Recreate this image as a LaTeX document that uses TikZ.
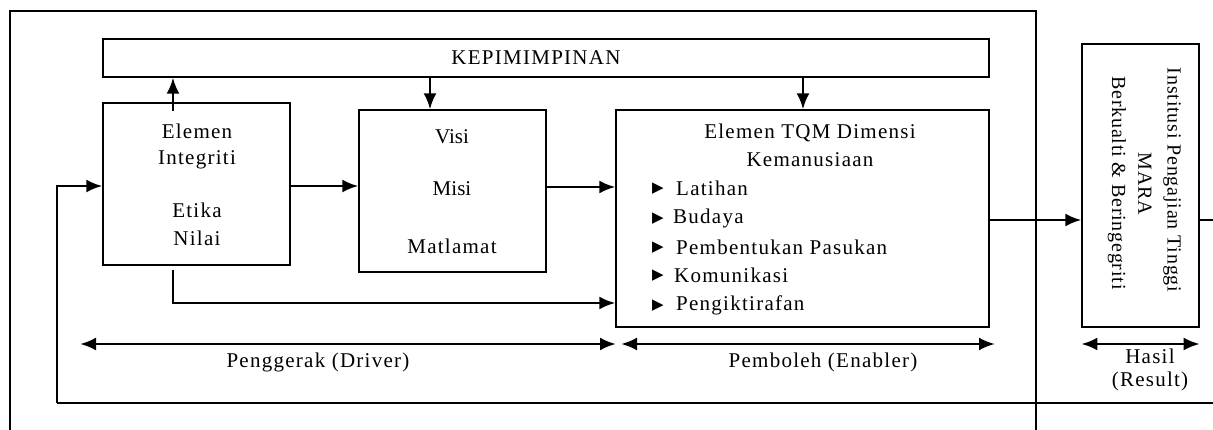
\documentclass[tikz,border=0pt]{standalone}
\usepackage{fontspec}
\setmainfont{Liberation Serif}[LetterSpace=6]
\newfontfamily\plainf{Liberation Serif}
\newfontfamily\rotf{Liberation Serif}[LetterSpace=4]
\newfontfamily\symf{DejaVu Sans}
\usetikzlibrary{arrows.meta}
\begin{document}
\begin{tikzpicture}[x=1pt,y=-1pt,
  box/.style={draw, line width=1.3pt, inner sep=0pt},
  ln/.style={line width=1.3pt},
  arr/.style={line width=2.6pt, -{Latex[length=16pt,width=13pt]}},
  darr/.style={line width=2.6pt, {Latex[length=16pt,width=13pt]}-{Latex[length=16pt,width=13pt]}},
  txt/.style={font=\fontsize{21}{25}\selectfont, inner sep=0pt, anchor=center},
  btxt/.style={font=\fontsize{21}{25}\selectfont, inner sep=0pt, anchor=west},
  rtxt/.style={font=\fontsize{20}{24}\rotf, inner sep=0pt, anchor=center, rotate=-90},
  bul/.style={font=\fontsize{15}{17}\symf, inner sep=0pt, anchor=center}]
\useasboundingbox (0,0) rectangle (1213,430);

% outer frame
\draw[ln] (10,430) -- (10,11) -- (1036,11) -- (1036,430);

% boxes
\node[box, minimum width=886pt, minimum height=38pt] (bar) at (546,58) {};
\node[txt] (kep) at (536,58) {KEPIMIMPINAN};

\node[box, minimum width=187pt, minimum height=162pt] (box1) at (196.5,184) {};
\node[txt] (t1a) at (197,131) {Elemen};
\node[txt] (t1b) at (197,160) {Integriti};
\node[txt] (t1c) at (197,210) {Etika};
\node[txt] (t1d) at (197,238) {Nilai};

\node[box, minimum width=187pt, minimum height=162pt] (box2) at (452.5,191) {};
\node[txt, font=\fontsize{21}{25}\plainf] (t2a) at (452,137) {Visi};
\node[txt, font=\fontsize{21}{25}\plainf] (t2b) at (452,189) {Misi};
\node[txt] (t2c) at (452,246) {Matlamat};

\node[box, minimum width=373pt, minimum height=217pt] (box3) at (802.5,218.5) {};
\node[txt] (t3a) at (810,133) {Elemen TQM Dimensi};
\node[txt] (t3b) at (810,160) {Kemanusiaan};
\node[bul] (k1) at (658,189) {▶};
\node[bul] (k2) at (658,219) {▶};
\node[bul] (k3) at (658,248) {▶};
\node[bul] (k4) at (658,276) {▶};
\node[bul] (k5) at (658,306) {▶};
\node[btxt] (b1) at (676,188) {Latihan};
\node[btxt] (b2) at (673,218) {Budaya};
\node[btxt] (b3) at (676,247) {Pembentukan Pasukan};
\node[btxt] (b4) at (674,275) {Komunikasi};
\node[btxt] (b5) at (676,305) {Pengiktirafan};

\node[box, minimum width=117pt, minimum height=283pt] (box4) at (1140.5,185.5) {};
\node[rtxt] (r1) at (1172,180) {Institusi Pengajian Tinggi};
\node[rtxt] (r2) at (1145,184) {MARA};
\node[rtxt] (r3) at (1117,183) {Berkualti \& Beringegriti};

% helper coordinates
\coordinate (u1) at (173,111);
\coordinate (d1) at (430,0);
\coordinate (d2) at (803,0);
\coordinate (h1) at (0,186);
\coordinate (h2) at (0,187);
\coordinate (h3) at (0,220);
\coordinate (bl) at (173,270);
\coordinate (bh) at (0,303);
\coordinate (fbR) at (1213,403);
\coordinate (fbL) at (57,403);
\coordinate (outR) at (1213,220);

% connectors
\draw[arr] (u1) -- (u1 |- bar.south);
\draw[arr] (bar.south -| d1) -- (box2.north -| d1);
\draw[arr] (bar.south -| d2) -- (box3.north -| d2);
\draw[arr] (box1.east |- h1) -- (box2.west |- h1);
\draw[arr] (box2.east |- h2) -- (box3.west |- h2);
\draw[arr] (bl) |- (box3.west |- bh);
\draw[arr] (box3.east |- h3) -- (box4.west |- h3);
\draw[ln] (box4.east |- h3) -- (outR);
\draw[ln] (fbR) -- (fbL);
\draw[arr] (fbL) |- (box1.west |- h1);

% range arrows
\coordinate (pgL) at (80,344);
\coordinate (pgR) at (616,344);
\coordinate (pbL) at (621,344);
\coordinate (pbR) at (995,344);
\coordinate (hs) at (0,344);
\draw[darr] (pgL) -- (pgR);
\draw[darr] (pbL) -- (pbR);
\draw[darr] (box4.west |- hs) -- (box4.east |- hs);
\node[txt] (lpg) at (318,362) {Penggerak (Driver)};
\node[txt] (lpb) at (823,362) {Pemboleh (Enabler)};
\node[txt] (lh1) at (1150,356) {Hasil};
\node[txt] (lh2) at (1150,381) {(Result)};
\end{tikzpicture}
\end{document}
